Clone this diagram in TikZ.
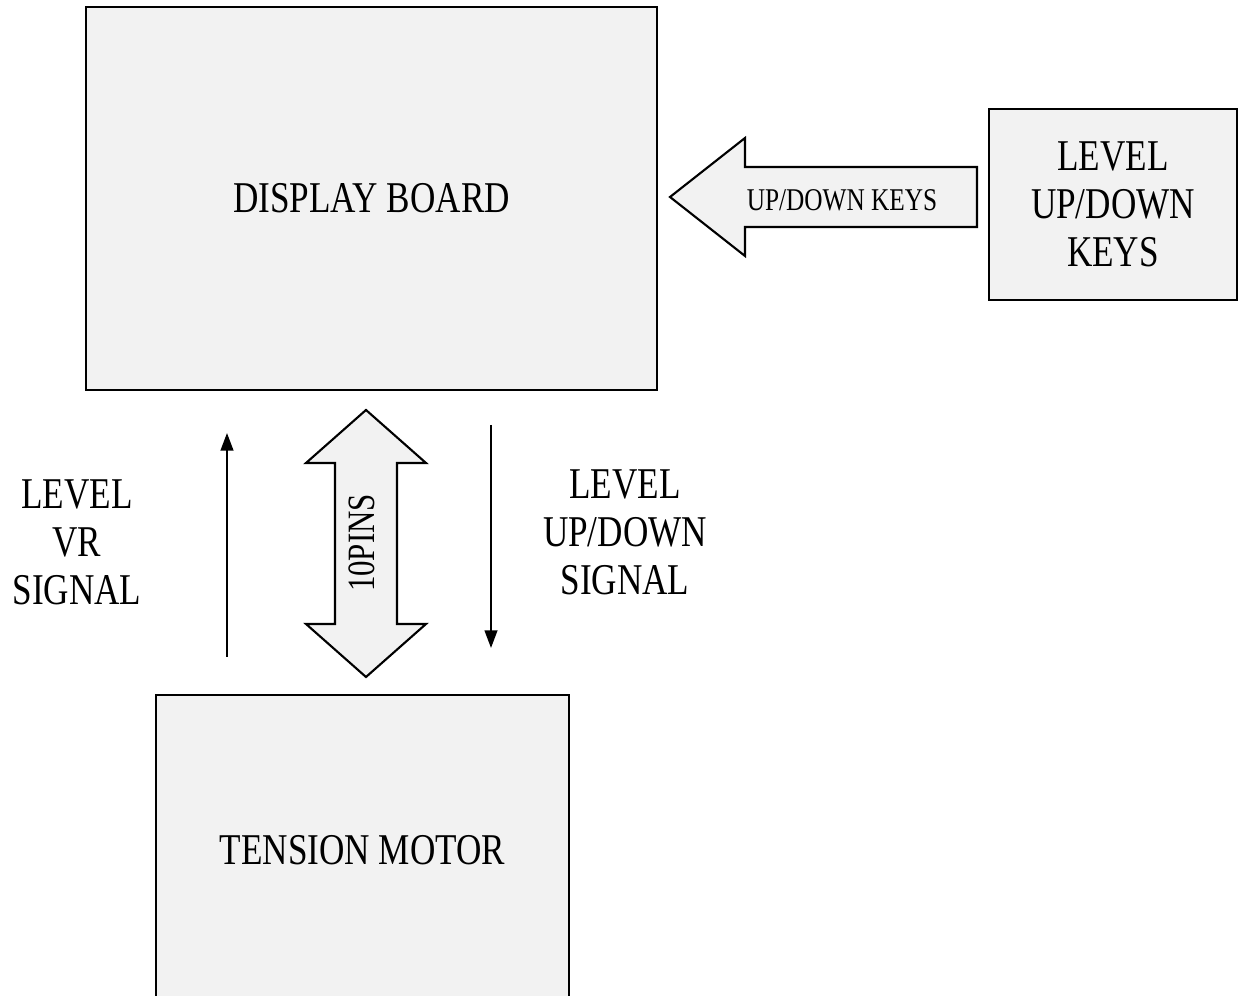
\documentclass[tikz,border=0pt]{standalone}
\usepackage{fontspec}
\setmainfont{Liberation Serif}[FakeStretch=0.8]
\usetikzlibrary{arrows.meta,positioning}
\definecolor{boxfill}{HTML}{F2F2F2}

\begin{document}
\begin{tikzpicture}[
  box/.style={draw, line width=0.6pt, fill=boxfill, inner sep=0pt, align=center, font=\fontsize{12.5}{13.7}\selectfont},
  lbl/.style={align=center, font=\fontsize{12.5}{13.7}\selectfont},
  fat/.style={draw, line width=0.6pt, fill=boxfill},
  sig/.style={line width=0.6pt, -{Triangle[length=5pt,width=3.6pt]}}]
\clip (0,0) rectangle (12.38,9.96);
% boxes
\node[box, minimum width=5.71cm, minimum height=3.83cm] (board) at (3.715,7.975) {DISPLAY BOARD};
\node[box, minimum width=2.48cm, minimum height=1.91cm] (keys) at (11.13,7.915) {LEVEL\\UP/DOWN\\KEYS};
\node[box, minimum width=4.13cm, minimum height=3.1cm] (motor) at (3.625,1.46) {TENSION MOTOR};
% keys arrow
\coordinate (kt) at (6.70,7.99);
\draw[fat] (kt) -- ++(0.75,0.59) -- ++(0,-0.29) -- ++(2.32,0) -- ++(0,-0.60) -- ++(-2.32,0) -- ++(0,-0.29) -- cycle;
\node[font=\fontsize{9}{10}\selectfont] (keyslbl) at (8.42,7.96) {UP/DOWN KEYS};
% 10 pin bus
\coordinate (pt) at (3.66,5.86);
\draw[fat] (pt) -- ++(0.6,-0.53) -- ++(-0.29,0) -- ++(0,-1.61) -- ++(0.29,0) -- ++(-0.6,-0.53) -- ++(-0.6,0.53) -- ++(0.29,0) -- ++(0,1.61) -- ++(-0.29,0) -- cycle;
\node[rotate=90, font=\fontsize{11}{12}\selectfont] (pins) at (3.62,4.53) {10PINS};
% signals
\coordinate (vr0) at (2.27,3.39);
\coordinate (vr1) at (2.27,5.63);
\draw[sig] (vr0) -- (vr1);
\coordinate (ud0) at (4.91,5.71);
\coordinate (ud1) at (4.91,3.48);
\draw[sig] (ud0) -- (ud1);
\node[lbl] (vrlbl) at (0.77,4.54) {LEVEL\\VR\\SIGNAL};
\node[lbl] (udlbl) at (6.25,4.64) {LEVEL\\UP/DOWN\\SIGNAL};
\end{tikzpicture}
\end{document}
